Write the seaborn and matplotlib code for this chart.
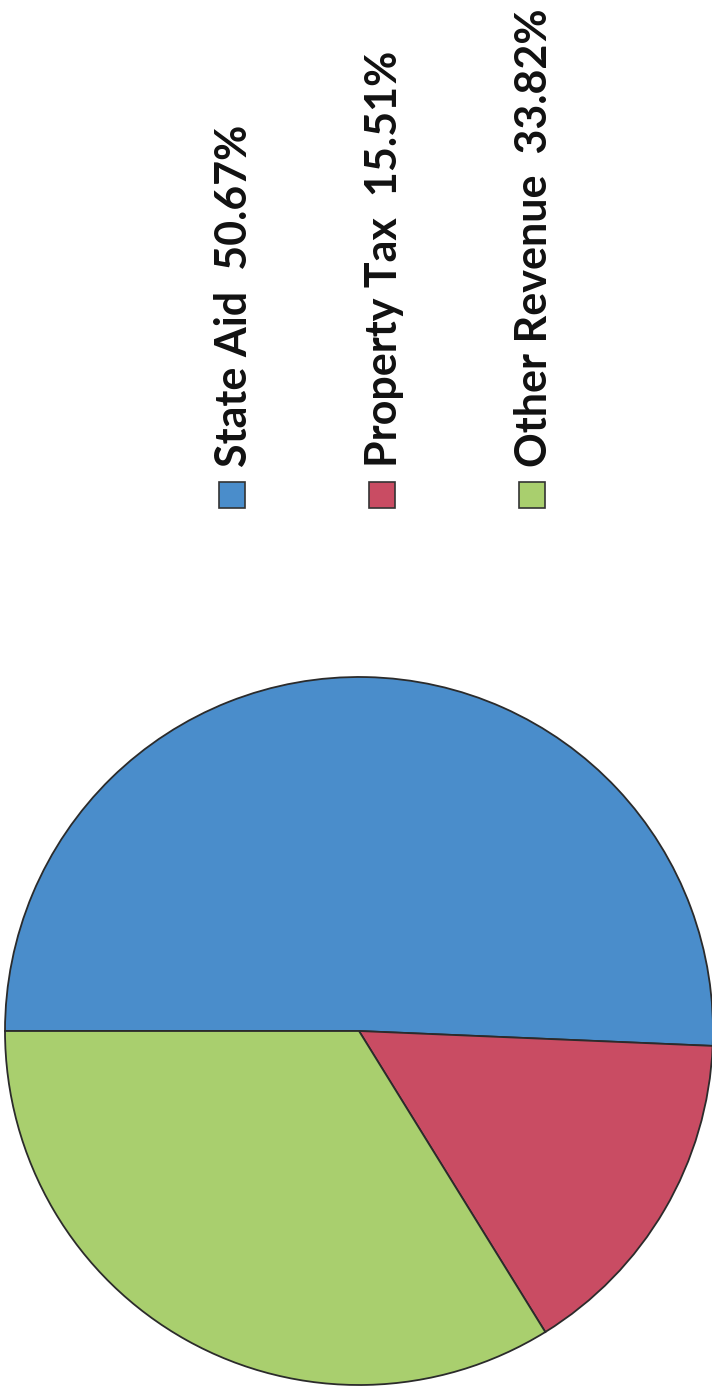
import matplotlib
matplotlib.use("Agg")
import matplotlib.pyplot as plt
import seaborn as sns
from matplotlib.patches import Rectangle

categories = ["State Aid", "Property Tax", "Other Revenue"]
shares = [50.67, 15.51, 33.82]
colors = ["#4a8dcb", "#c94c63", "#a9cf6e"]

sns.set_theme(style="white")
plt.rcParams['font.family'] = ['Lato', 'DejaVu Sans']

W, H = 712, 1389
fig = plt.figure(figsize=(W / 100, H / 100), dpi=100)
ax = fig.add_axes([0, 0, 1, 1])

ax.pie(shares, colors=colors, center=(359, H - 1031), radius=354,
       startangle=180, counterclock=False,
       wedgeprops=dict(edgecolor="#2b2b2b", linewidth=1.3))
ax.set_xlim(0, W)
ax.set_ylim(0, H)
ax.set_aspect("equal")
ax.axis("off")

# rotated legend
base_x = [247, 397, 547]
for cat, val, col, bx in zip(categories, shares, colors, base_x):
    ax.add_patch(Rectangle((bx - 28, H - 508), 26, 26, facecolor=col,
                           edgecolor="#333333", linewidth=1.2))
    ax.text(bx, H - 467, f"{cat}  {val:.2f}%", rotation=90,
            rotation_mode="anchor", ha="left", va="baseline",
            fontsize=31, fontweight="bold", color="#111111")

fig.savefig("out.png", dpi=100)
